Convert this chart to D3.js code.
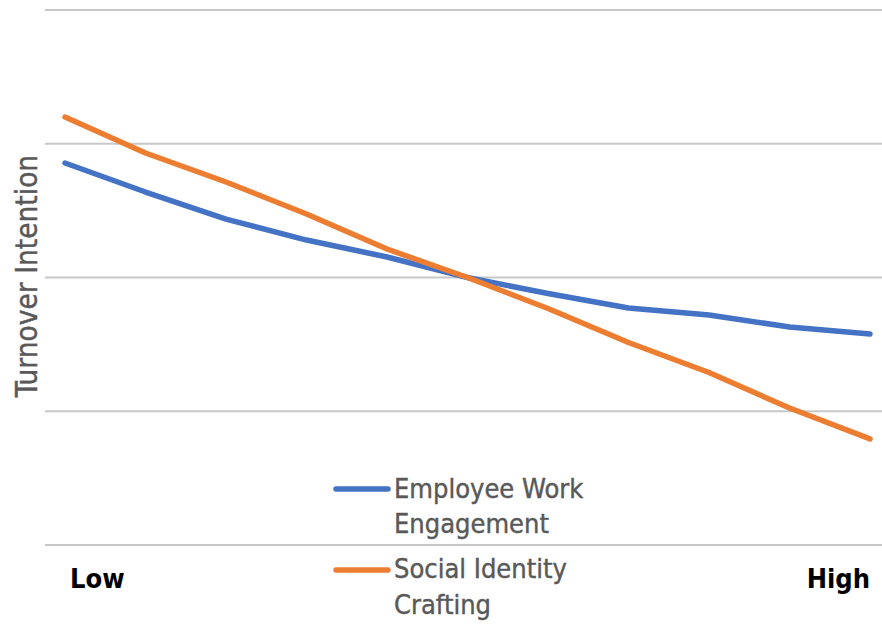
<!DOCTYPE html>
<html><head><meta charset="utf-8">
<script src="https://cdn.jsdelivr.net/npm/d3@7"></script>
<style>html,body{margin:0;padding:0;background:#fff;}</style>
</head><body>
<svg id="c" width="882" height="627"></svg>
<script>
const steps = [0,1,2,3,4,5,6,7,8,9,10];
const engagement = [2.856,2.639,2.437,2.280,2.153,2.0,1.880,1.772,1.720,1.630,1.578];
const crafting = [3.20,2.931,2.714,2.475,2.213,2.0,1.768,1.514,1.290,1.024,0.793];
const yTicks = [0,1,2,3,4];
const seriesNames = ["Employee Work Engagement","Social Identity Crafting"];
const xLabels = ["Low","High"];

const svg = d3.select("#c");
const font = "'DejaVu Sans Condensed','DejaVu Sans',sans-serif";
const x = d3.scaleLinear().domain([0,10]).range([65,870]);
const y = d3.scaleLinear().domain([0,4]).range([545,10]);

// gridlines
svg.append("g").selectAll("line").data(yTicks).join("line")
  .attr("x1",45).attr("x2",882)
  .attr("y1",d=>y(d)).attr("y2",d=>y(d))
  .attr("stroke","#c8c8c8").attr("stroke-width",2);

const line = d3.line().x((d,i)=>x(steps[i])).y(d=>y(d));
const colors = ["#4472C4","#ED7D31"];
[engagement,crafting].forEach((s,k)=>{
  svg.append("path").attr("d",line(s)).attr("fill","none")
    .attr("stroke",colors[k]).attr("stroke-width",5.5)
    .attr("stroke-linecap","round").attr("stroke-linejoin","round");
});

// axis title
svg.append("text").attr("transform","translate(37,276) rotate(-90)")
  .attr("text-anchor","middle").attr("font-family",font).attr("font-size",29.5)
  .attr("fill","#595959").attr("stroke","#595959").attr("stroke-width",0.4)
  .text("Turnover Intention");

// x labels
svg.append("text").attr("x",70).attr("y",588).attr("font-family",font)
  .attr("font-size",27).attr("font-weight","bold").attr("fill","#000").text(xLabels[0]);
svg.append("text").attr("x",870).attr("y",588).attr("text-anchor","end").attr("font-family",font)
  .attr("font-size",27).attr("font-weight","bold").attr("fill","#000").text(xLabels[1]);

// legend
const legY = [489,570];
const legLines = [["Employee Work","Engagement"],["Social Identity","Crafting"]];
const legBase = [[498,533],[578,614]];
legY.forEach((ly,k)=>{
  svg.append("line").attr("x1",336).attr("x2",388).attr("y1",ly).attr("y2",ly)
    .attr("stroke",colors[k]).attr("stroke-width",5.5).attr("stroke-linecap","round");
  legLines[k].forEach((t,j)=>{
    svg.append("text").attr("x",394).attr("y",legBase[k][j]).attr("font-family",font)
      .attr("font-size",27).attr("fill","#595959")
      .attr("stroke","#595959").attr("stroke-width",0.4).text(t);
  });
});
</script>
</body></html>
